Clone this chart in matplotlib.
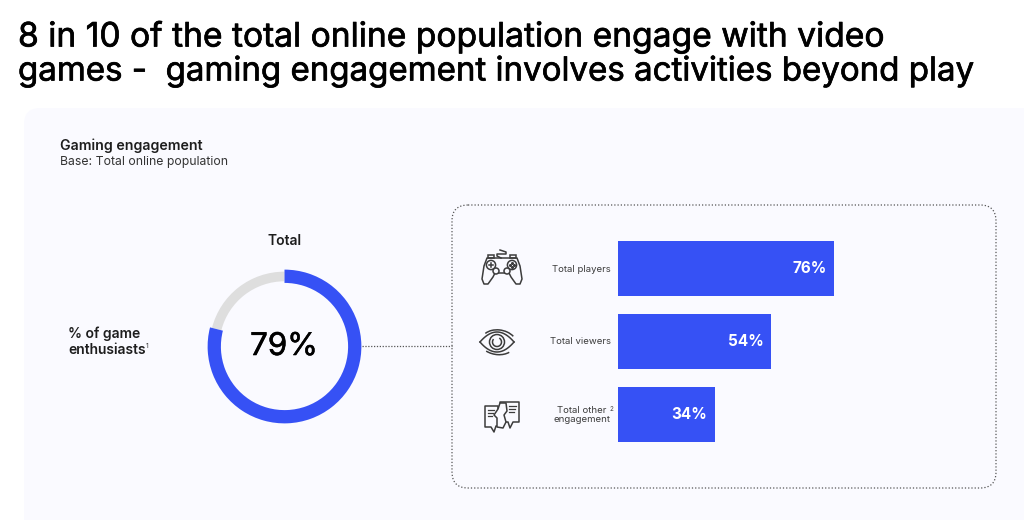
import numpy as np
import matplotlib
matplotlib.use('Agg')
import matplotlib.pyplot as plt
import matplotlib.patheffects as pe
from matplotlib.patches import Circle, FancyBboxPatch, Polygon, Arc, Rectangle

plt.rcParams['font.family'] = ['Inter', 'DejaVu Sans']

# Data
title_lines = ['8 in 10 of the total online population engage with video',
               'games -  gaming engagement involves activities beyond play']
categories = ['Total players', 'Total viewers', 'Total other\nengagement']
values = [76, 54, 34]
enthusiasts = 79

BLUE = '#3651F5'
GREY = '#DEDEDE'
PANEL = '#FAFAFF'
INK = '#3C3C3C'
DARK = '#1E1E1E'
W, H = 1024, 520


def px_axes(fig, x0, y0, x1, y1):
    # axes placed by pixel box, y measured from the top
    return fig.add_axes([x0 / W, 1 - y1 / H, (x1 - x0) / W, (y1 - y0) / H])


def draw_controller(ax):
    lw = 1.1
    body = [(487, 258), (517, 258), (520, 266), (522, 279), (520, 284), (516, 284),
            (511, 277), (509, 273), (495, 273), (493, 277), (488, 284), (484, 284), (482, 279), (484, 266)]
    ax.add_patch(Polygon(body, closed=True, fc='none', ec=INK, lw=lw, joinstyle='round'))
    ax.add_patch(Rectangle((488, 255), 6, 3, fc='none', ec=INK, lw=lw))
    ax.add_patch(Rectangle((510, 255), 6, 3, fc='none', ec=INK, lw=lw))
    ax.add_patch(Circle((491, 265), 4.6, fc='none', ec=INK, lw=lw))
    ax.add_patch(Circle((512, 265), 4.6, fc='none', ec=INK, lw=lw))
    ax.add_patch(Circle((496, 271), 3, fc=PANEL, ec=INK, lw=lw))
    ax.add_patch(Circle((507, 271), 3, fc=PANEL, ec=INK, lw=lw))
    ax.plot([489, 493], [265, 265], color=INK, lw=lw)
    ax.plot([491, 491], [263, 267], color=INK, lw=lw)
    ax.plot([510, 512, 514, 512], [265, 263, 265, 267], ls='none', marker='o', ms=1.2, color=INK)
    ax.plot([501, 497, 497, 506, 506, 500], [258, 256, 254, 254, 252, 250], color=INK, lw=lw)


def draw_eye(ax):
    lw = 1.1
    xs = np.linspace(480, 514, 30)
    top = 342 - 10 * (1 - ((xs - 497) / 17) ** 2)
    bot = 342 + 10 * (1 - ((xs - 497) / 17) ** 2)
    ax.plot(xs, top, color=INK, lw=lw)
    ax.plot(xs, bot, color=INK, lw=lw)
    ax.add_patch(Circle((497, 342), 7.5, fc='none', ec=INK, lw=lw))
    ax.add_patch(Arc((497, 342), 9, 9, theta1=-60, theta2=220, ec=INK, lw=lw))
    ax.add_patch(Arc((499, 343), 36, 26, angle=10, theta1=205, theta2=325, ec=INK, lw=lw))
    ax.add_patch(Arc((497, 342), 36, 25, angle=10, theta1=30, theta2=130, ec=INK, lw=lw))


def draw_chat(ax):
    lw = 1.1
    left = [(485, 406), (498, 406), (498, 426), (496, 426), (494, 432), (491, 427), (485, 427)]
    right = [(500, 402), (519, 402), (519, 422), (513, 422), (510, 428), (508, 422), (505, 422)]
    ax.add_patch(Polygon(left, closed=True, fc='none', ec=INK, lw=lw, joinstyle='round'))
    ax.add_patch(Polygon(right, closed=True, fc=PANEL, ec=INK, lw=lw, joinstyle='round'))
    head = [(500, 403), (506, 403), (507, 411), (504, 415), (506, 422), (503, 428),
            (497, 427), (497, 418), (494, 415), (498, 409)]
    ax.add_patch(Polygon(head, closed=True, fc=PANEL, ec=INK, lw=lw, joinstyle='round'))
    for y0, x0, x1 in [(410, 488, 494), (413, 488, 493), (416, 488, 492),
                       (406, 509, 516), (409, 509, 515), (412, 509, 514)]:
        ax.plot([x0, x1], [y0, y0], color=INK, lw=0.9)


fig = plt.figure(figsize=(W / 100, H / 100), dpi=100, facecolor='white')

# page layer in pixel coordinates
page = fig.add_axes([0, 0, 1, 1])
page.set_xlim(0, W)
page.set_ylim(H, 0)
page.axis('off')

page.add_patch(FancyBboxPatch((24, 108), 1040, 460, boxstyle='round,pad=0,rounding_size=16',
                              fc=PANEL, ec='none', zorder=0))
page.add_patch(FancyBboxPatch((452, 205), 544, 283, boxstyle='round,pad=0,rounding_size=16',
                              fc='none', ec='#555555', lw=0.9, ls=(0, (1, 1.6)), zorder=1))
page.plot([362, 452], [346, 346], color='#555555', lw=0.9, ls=(0, (1, 1.3)), zorder=1)

# slightly heavier strokes on the headline
heavy = [pe.withStroke(linewidth=0.5, foreground='black')]
page.text(18, 37, title_lines[0], fontsize=24.2, color='black', va='center', path_effects=heavy)
page.text(18, 72, title_lines[1], fontsize=23.8, color='black', va='center', path_effects=heavy)
page.text(60, 146, 'Gaming engagement', fontsize=10.2, weight=600, color=DARK, va='center')
page.text(60, 162, 'Base: Total online population', fontsize=8.8, color='#333333', va='center')
page.text(285, 241, 'Total', fontsize=10, weight=600, color=DARK, ha='center', va='center')
page.text(68, 334, '% of game', fontsize=10, weight=600, color=DARK, va='center')
page.text(68, 350, 'enthusiasts', fontsize=10, weight=600, color=DARK, va='center')
page.text(146, 346, '1', fontsize=5, color='#333333', va='center')
page.text(284, 347, f'{enthusiasts}%', fontsize=22.5, color='black', ha='center', va='center',
          path_effects=[pe.withStroke(linewidth=0.4, foreground='black')])

draw_controller(page)
draw_eye(page)
draw_chat(page)

# donut
donut = px_axes(fig, 204, 266, 365, 427)
donut.pie([100 - enthusiasts, enthusiasts], radius=0.93, startangle=90, colors=[GREY, 'none'],
          wedgeprops={'width': 0.12})
donut.pie([100 - enthusiasts, enthusiasts], radius=0.955, startangle=90, colors=['none', BLUE],
          wedgeprops={'width': 0.165})
donut.set_xlim(-1, 1)
donut.set_ylim(-1, 1)

# bars, 0-100 % spans 284 px from the bar base
bars = px_axes(fig, 618, 232, 902, 451)
y = np.arange(len(values))
bars.barh(y, values, height=0.755, color=BLUE)
bars.set_xlim(0, 100)
bars.set_ylim(2.5, -0.5)
bars.axis('off')
for i, v in enumerate(values):
    bars.text(v - 2.6, i, f'{v}%', color='white', fontsize=11, weight=700, ha='right', va='center')

page.text(611, 269, categories[0], fontsize=6.9, color=INK, ha='right', va='center')
page.text(611, 342, categories[1], fontsize=6.9, color=INK, ha='right', va='center')
page.text(582, 415, categories[2], fontsize=6.9, color=INK, ha='center', va='center', linespacing=1.0)
page.text(610, 409, '2', fontsize=4.5, color=INK, va='center')

fig.savefig('out.png', dpi=100)
